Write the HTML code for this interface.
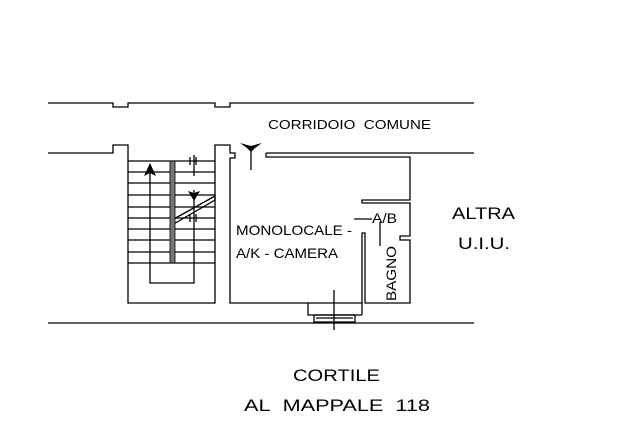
<!DOCTYPE html>
<html><head><meta charset="utf-8"><style>
html,body{margin:0;padding:0;background:#fff;}
svg{display:block;}
text{font-family:"Liberation Sans",Arial,sans-serif;fill:#000;}
</style></head><body>
<svg width="622" height="432" viewBox="0 0 622 432" xmlns="http://www.w3.org/2000/svg">
<g stroke="#000" stroke-width="1.3" fill="none">
<polyline points="48,103 113,103 113,107 128,107 128,103 215,103 215,107 230,107 230,103 474,103"/>
<polyline points="48,153 113,153 113,145 128,145 128,303 215,303 215,145 230,145 230,153 235,153 235,158 230,158 230,303 362,303"/>
<line x1="266" y1="153" x2="474" y2="153"/>
<polyline points="266,153 266,157 410,157 410,200 362,200 362,203 410,203 410,236 400,236 400,240 410,240 410,303 365,303 365,233 362,233 362,315"/>
<line x1="48" y1="323" x2="474" y2="323"/>
<polyline points="308,303 308,315 362,315"/>
<rect x="314" y="315" width="41" height="7"/>
<line x1="316" y1="318" x2="353" y2="318"/>
<line x1="334" y1="290" x2="334" y2="330"/>
<line x1="128" y1="161" x2="215" y2="161"/>
<line x1="128" y1="172" x2="215" y2="172"/>
<line x1="128" y1="183" x2="215" y2="183"/>
<line x1="128" y1="195" x2="215" y2="195"/>
<line x1="128" y1="207" x2="215" y2="207"/>
<line x1="128" y1="218" x2="215" y2="218"/>
<line x1="128" y1="229" x2="215" y2="229"/>
<line x1="128" y1="240" x2="215" y2="240"/>
<line x1="128" y1="252" x2="215" y2="252"/>
<line x1="128" y1="263" x2="215" y2="263"/>
<polyline points="150,172 150,283 194,283 194,190"/>
<line x1="194" y1="155" x2="194" y2="176"/>
<line x1="190" y1="157" x2="190" y2="165"/><line x1="196" y1="157" x2="196" y2="165"/>
<line x1="190" y1="214" x2="190" y2="222"/><line x1="196" y1="214" x2="196" y2="222"/>
<polyline points="172,220 215,196 215,200 172,225"/>
<line x1="354" y1="219" x2="372" y2="219"/>
<line x1="380" y1="222" x2="380" y2="246"/>
<line x1="251" y1="148" x2="251" y2="170"/>
</g>
<rect x="170" y="161" width="5" height="102" fill="#777" stroke="#000" stroke-width="0.8"/>
<polygon points="150,163 144,176 150,173 156,176" fill="#000"/>
<polygon points="194,201 188,191 194,193 200,191" fill="#000"/>
<polygon points="240,143 251,146 262,143 255,148 251,152 247,148" fill="#000"/>
<text x="268" y="129" font-size="13" textLength="163" lengthAdjust="spacingAndGlyphs">CORRIDOIO&#160;&#160;COMUNE</text>
<text x="236" y="235" font-size="14" textLength="116" lengthAdjust="spacingAndGlyphs">MONOLOCALE -</text>
<text x="236" y="258" font-size="14" textLength="102" lengthAdjust="spacingAndGlyphs">A/K - CAMERA</text>
<text x="372" y="223" font-size="14" textLength="25" lengthAdjust="spacingAndGlyphs">A/B</text>
<text transform="translate(396,301) rotate(-90)" font-size="14" textLength="55" lengthAdjust="spacingAndGlyphs">BAGNO</text>
<text x="452" y="219" font-size="17" textLength="63" lengthAdjust="spacingAndGlyphs">ALTRA</text>
<text x="458" y="249" font-size="17" textLength="52" lengthAdjust="spacingAndGlyphs">U.I.U.</text>
<text x="293" y="381" font-size="17" textLength="87" lengthAdjust="spacingAndGlyphs">CORTILE</text>
<text x="244" y="411" font-size="17" textLength="186" lengthAdjust="spacingAndGlyphs">AL&#160;&#160;MAPPALE&#160;&#160;118</text>
</svg>
</body></html>
